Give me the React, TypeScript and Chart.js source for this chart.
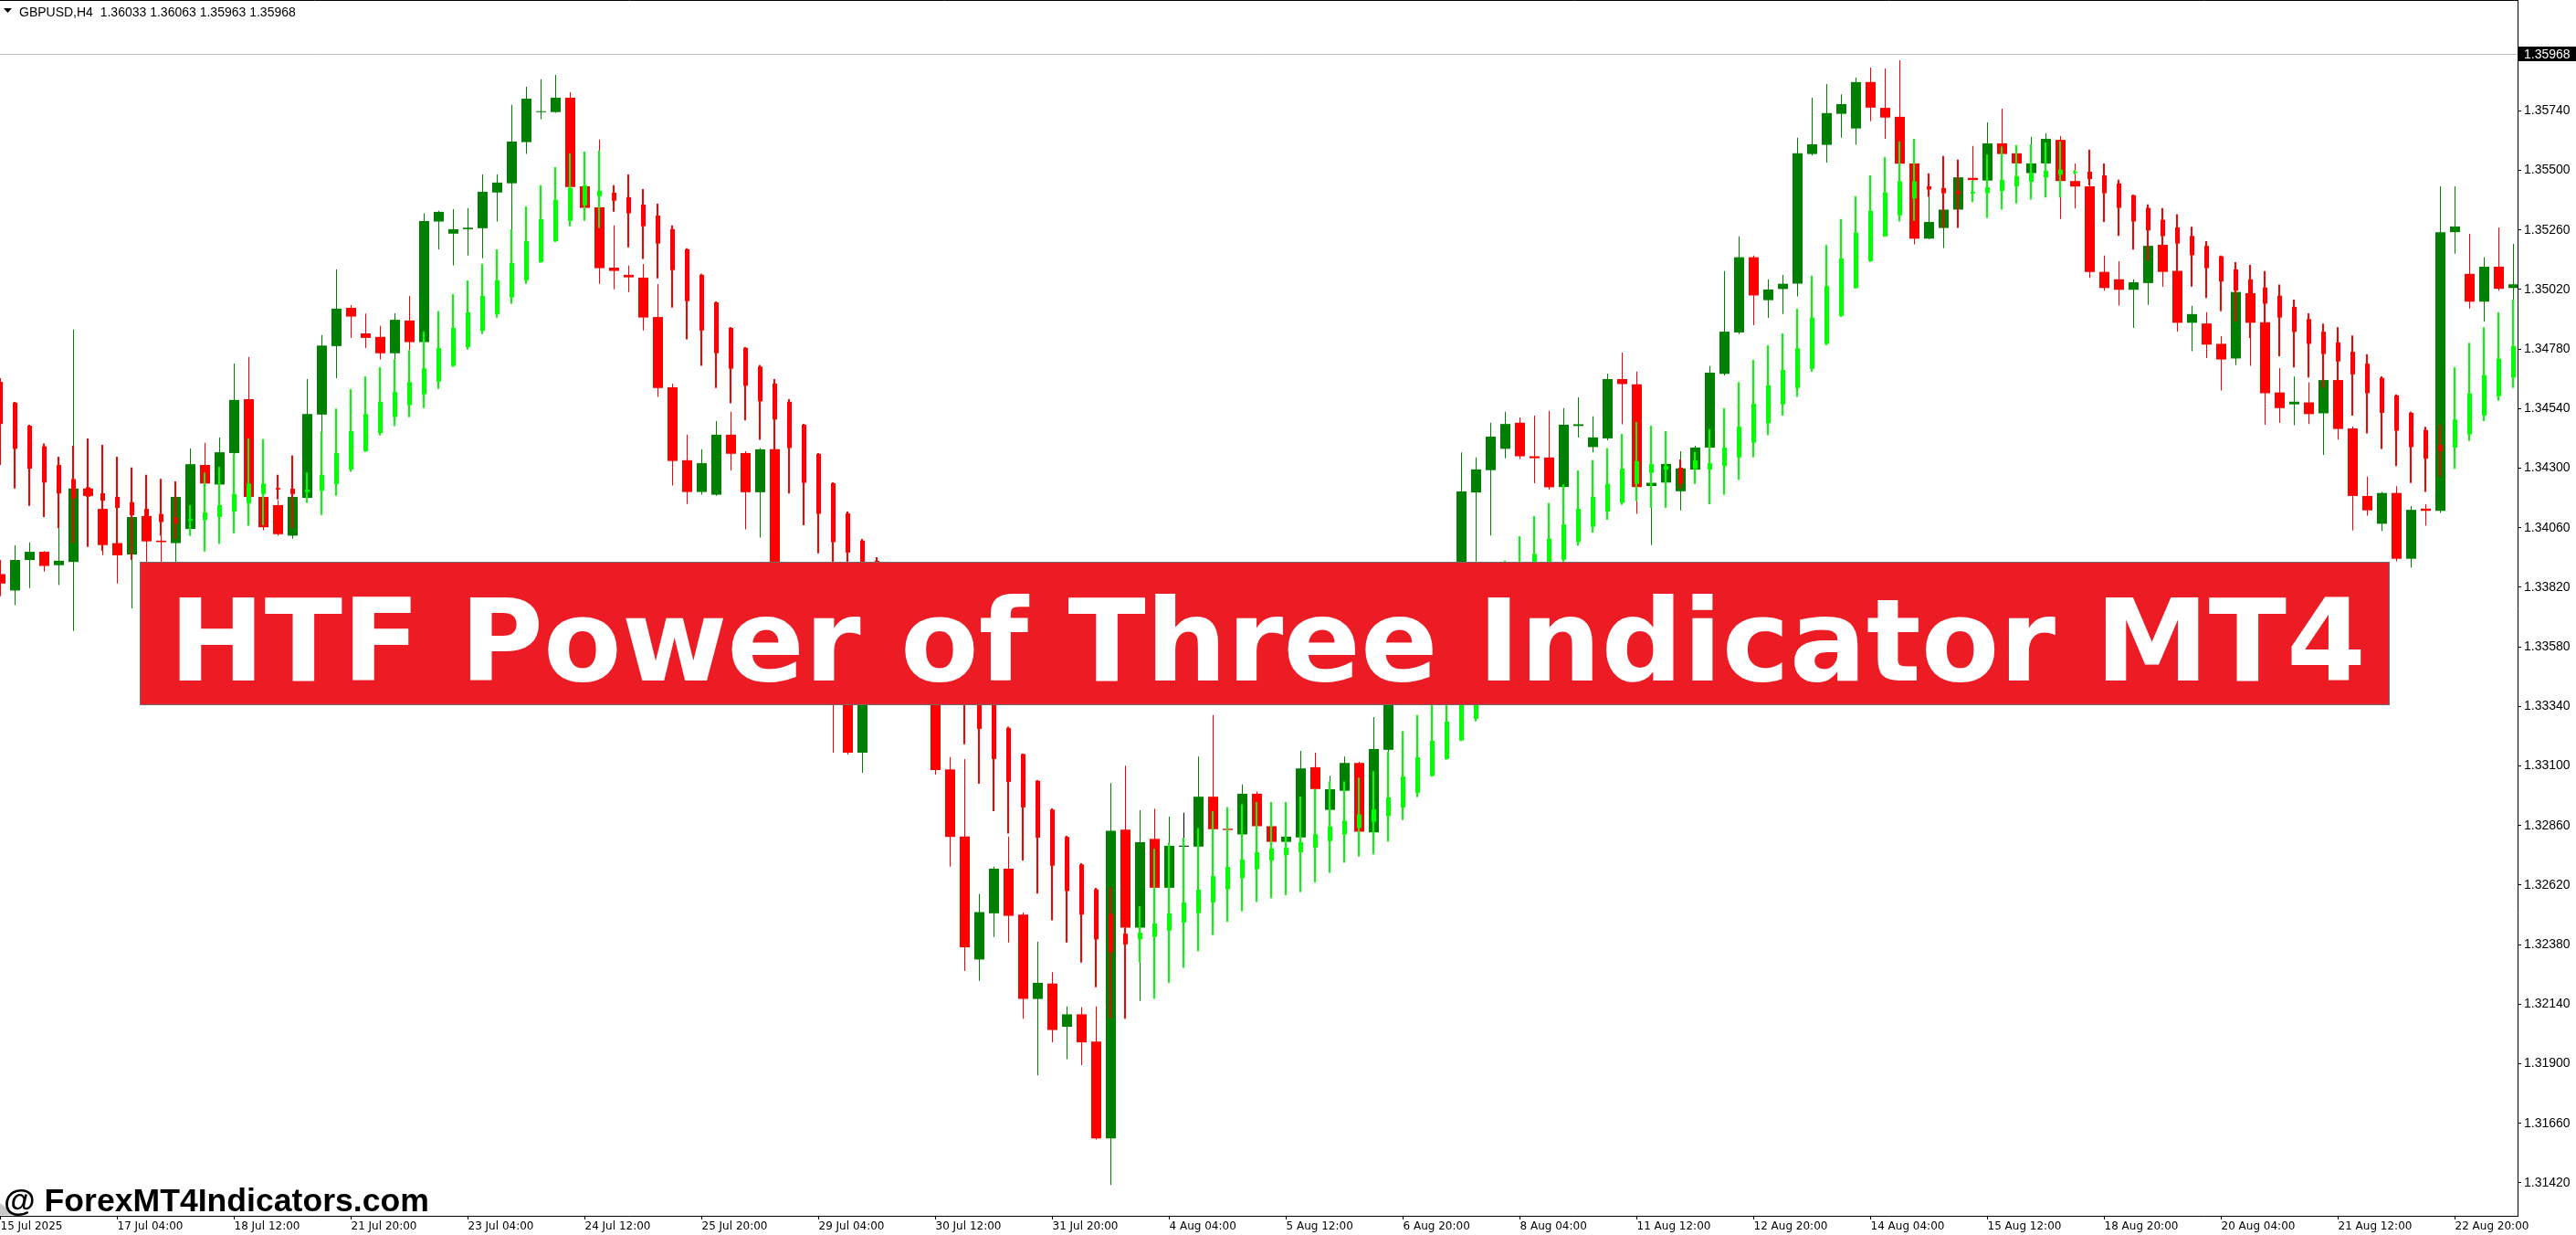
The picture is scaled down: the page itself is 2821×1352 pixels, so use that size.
import React, { useEffect, useRef } from "react";
import { Chart, registerables } from "chart.js";

Chart.register(...registerables);

const CANVAS_W = 2821;
const CANVAS_H = 1352;

const chartTitle = "HTF Power of Three Indicator MT4";
const watermark = "@ ForexMT4Indicators.com";
const headerText = "GBPUSD,H4  1.36033 1.36063 1.35963 1.35968";
const bidPrice = 1.35968;

const priceTicks = [
  1.3142, 1.3166, 1.319, 1.3214, 1.3238, 1.3262, 1.3286, 1.331, 1.3334, 1.3358,
  1.3382, 1.3406, 1.343, 1.3454, 1.3478, 1.3502, 1.3526, 1.355, 1.3574,
];

// one label every 8 H4 bars
const timeLabels = [
  "15 Jul 2025", "17 Jul 04:00", "18 Jul 12:00", "21 Jul 20:00", "23 Jul 04:00",
  "24 Jul 12:00", "25 Jul 20:00", "29 Jul 04:00", "30 Jul 12:00", "31 Jul 20:00",
  "4 Aug 04:00", "5 Aug 12:00", "6 Aug 20:00", "8 Aug 04:00", "11 Aug 12:00",
  "12 Aug 20:00", "14 Aug 04:00", "15 Aug 12:00", "18 Aug 20:00", "20 Aug 04:00",
  "21 Aug 12:00", "22 Aug 20:00",
];
const barsPerLabel = 8;

// GBPUSD H4 price bars
const barOpen = [
  1.33873, 1.33807, 1.3393, 1.33963, 1.33909, 1.33922, 1.34218, 1.34136, 1.33998, 1.33952,
  1.34107, 1.34008, 1.33998, 1.34055, 1.34313, 1.34234, 1.34361, 1.34578, 1.34184, 1.34151,
  1.34028, 1.3418, 1.34516, 1.34792, 1.34946, 1.34843, 1.34829, 1.34763, 1.34895, 1.34808,
  1.35294, 1.35245, 1.35263, 1.35267, 1.35411, 1.35448, 1.35614, 1.35735, 1.35735, 1.35793,
  1.35436, 1.35351, 1.35108, 1.35079, 1.35068, 1.34909, 1.34626, 1.34332, 1.34204, 1.34193,
  1.34435, 1.34361, 1.34203, 1.34376, 1.33794, 1.33647, 1.3372, 1.33904, 1.3361, 1.33153,
  1.33463, 1.3361, 1.33536, 1.33481, 1.33555, 1.33086, 1.32816, 1.3232, 1.32506, 1.32686,
  1.32501, 1.32161, 1.32223, 1.32049, 1.32099, 1.31989, 1.31599, 1.32843, 1.32448, 1.32806,
  1.32609, 1.32775, 1.32775, 1.32976, 1.32847, 1.32824, 1.32988, 1.32857, 1.32794, 1.32812,
  1.33095, 1.32923, 1.33, 1.33112, 1.32832, 1.33165, 1.33463, 1.3361, 1.33536, 1.3372,
  1.33794, 1.34202, 1.34292, 1.34378, 1.34483, 1.34348, 1.34343, 1.34224, 1.3447, 1.34385,
  1.3442, 1.34659, 1.34638, 1.34228, 1.34242, 1.34207, 1.34294, 1.34383, 1.3468, 1.34847,
  1.3515, 1.34977, 1.35022, 1.35044, 1.35566, 1.35603, 1.35728, 1.35669, 1.35856, 1.35752,
  1.35716, 1.35528, 1.35225, 1.35268, 1.35342, 1.3547, 1.35459, 1.35609, 1.35569, 1.35489,
  1.35528, 1.35623, 1.35457, 1.35436, 1.35091, 1.35061, 1.35019, 1.35046, 1.352, 1.35095,
  1.34886, 1.34883, 1.34801, 1.34742, 1.35005, 1.34888, 1.34605, 1.34557, 1.34565, 1.34521,
  1.34655, 1.3446, 1.34188, 1.34076, 1.342, 1.33935, 1.34137, 1.34128, 1.35251, 1.35083,
  1.34971, 1.35112, 1.35026,
];
const barHigh = [
  1.3393, 1.33989, 1.34001, 1.33966, 1.34058, 1.34859, 1.34223, 1.34148, 1.34028, 1.34118,
  1.34125, 1.34028, 1.34208, 1.34379, 1.34402, 1.34423, 1.34722, 1.34748, 1.34187, 1.3417,
  1.34187, 1.34659, 1.34837, 1.35101, 1.34957, 1.34923, 1.34873, 1.34924, 1.34994, 1.35327,
  1.35337, 1.35344, 1.35348, 1.35484, 1.35484, 1.35764, 1.35837, 1.35867, 1.35885, 1.35815,
  1.3544, 1.35624, 1.35278, 1.35116, 1.35123, 1.35042, 1.34641, 1.34435, 1.34376, 1.3449,
  1.34527, 1.34368, 1.34381, 1.34383, 1.33831, 1.33794, 1.33916, 1.33916, 1.33647, 1.33499,
  1.33684, 1.33647, 1.3361, 1.33592, 1.33592, 1.33136, 1.33128, 1.32585, 1.32694, 1.32816,
  1.32509, 1.32391, 1.32269, 1.32131, 1.32128, 1.32131, 1.33031, 1.33101, 1.32921, 1.32928,
  1.32896, 1.32911, 1.33138, 1.33305, 1.32862, 1.33025, 1.32997, 1.32866, 1.32829, 1.33161,
  1.33153, 1.3306, 1.33138, 1.33117, 1.33297, 1.33536, 1.33647, 1.33684, 1.33794, 1.33868,
  1.34364, 1.34343, 1.34483, 1.34527, 1.34504, 1.34512, 1.34531, 1.34542, 1.34585, 1.34509,
  1.34681, 1.34766, 1.34689, 1.34254, 1.34328, 1.34368, 1.3439, 1.34711, 1.35094, 1.35234,
  1.35157, 1.35061, 1.35079, 1.35632, 1.35793, 1.35848, 1.35807, 1.35874, 1.35914, 1.35911,
  1.35944, 1.35532, 1.35393, 1.35357, 1.35477, 1.35599, 1.35693, 1.35749, 1.3558, 1.35635,
  1.3565, 1.35638, 1.35528, 1.35451, 1.35157, 1.35134, 1.35061, 1.352, 1.35204, 1.35101,
  1.34954, 1.34929, 1.34832, 1.35016, 1.35061, 1.34898, 1.34703, 1.34669, 1.34646, 1.34663,
  1.34663, 1.34468, 1.34266, 1.34204, 1.34227, 1.34147, 1.34155, 1.35436, 1.35436, 1.35244,
  1.3515, 1.3527, 1.35204,
];
const barLow = [
  1.33784, 1.33748, 1.33817, 1.33883, 1.33829, 1.33644, 1.34181, 1.33949, 1.33835, 1.33735,
  1.33864, 1.33794, 1.33892, 1.34028, 1.34223, 1.34223, 1.34351, 1.34178, 1.3405, 1.34028,
  1.34016, 1.34178, 1.34445, 1.34663, 1.34825, 1.34784, 1.34738, 1.34739, 1.34776, 1.34803,
  1.35182, 1.35117, 1.35157, 1.35146, 1.35294, 1.35263, 1.35566, 1.35706, 1.35732, 1.35429,
  1.35344, 1.35043, 1.35021, 1.3501, 1.34855, 1.34587, 1.3423, 1.34156, 1.34193, 1.34189,
  1.34291, 1.34053, 1.3402, 1.33739, 1.3361, 1.33592, 1.33647, 1.33153, 1.33146, 1.33072,
  1.33371, 1.33463, 1.33389, 1.33371, 1.33065, 1.32694, 1.32274, 1.32234, 1.32411, 1.32389,
  1.32081, 1.31853, 1.31986, 1.31918, 1.31894, 1.31594, 1.31411, 1.32428, 1.32153, 1.32595,
  1.32595, 1.3277, 1.32745, 1.32828, 1.32829, 1.32818, 1.32851, 1.32785, 1.32781, 1.32807,
  1.32995, 1.32918, 1.32995, 1.32829, 1.32826, 1.33157, 1.33389, 1.33463, 1.33499, 1.33647,
  1.33776, 1.33924, 1.34029, 1.3434, 1.34337, 1.34239, 1.34214, 1.34217, 1.34423, 1.34364,
  1.34412, 1.34477, 1.34116, 1.3399, 1.34217, 1.3413, 1.34287, 1.34376, 1.34674, 1.3484,
  1.34876, 1.34906, 1.34921, 1.34992, 1.3556, 1.35531, 1.35632, 1.35603, 1.35698, 1.35627,
  1.35521, 1.35202, 1.35223, 1.35187, 1.35339, 1.35372, 1.35451, 1.35554, 1.35517, 1.3548,
  1.35517, 1.35304, 1.35346, 1.35067, 1.35015, 1.34955, 1.34865, 1.34958, 1.35031, 1.3485,
  1.34771, 1.34744, 1.34613, 1.34715, 1.34712, 1.34475, 1.34482, 1.34473, 1.34478, 1.34353,
  1.34415, 1.34049, 1.34109, 1.34046, 1.33925, 1.33899, 1.34068, 1.3412, 1.35164, 1.34943,
  1.34891, 1.35015, 1.34938,
];
const barClose = [
  1.33835, 1.3393, 1.33963, 1.33906, 1.33927, 1.34218, 1.34188, 1.3399, 1.33949, 1.34103,
  1.34005, 1.34002, 1.34184, 1.34316, 1.34238, 1.34364, 1.34575, 1.34184, 1.34062, 1.34034,
  1.34184, 1.34518, 1.34794, 1.34943, 1.34911, 1.34825, 1.34763, 1.34898, 1.34808, 1.35296,
  1.35333, 1.35263, 1.35269, 1.35414, 1.35451, 1.35616, 1.35789, 1.35738, 1.35793, 1.35433,
  1.35349, 1.35106, 1.35095, 1.35069, 1.34907, 1.34623, 1.34329, 1.34204, 1.3432, 1.34435,
  1.34358, 1.34203, 1.34376, 1.33794, 1.33647, 1.33757, 1.33904, 1.3361, 1.33153, 1.33463,
  1.3361, 1.33536, 1.33481, 1.33555, 1.33083, 1.32814, 1.32369, 1.32511, 1.32686, 1.32496,
  1.32161, 1.32226, 1.32036, 1.32099, 1.31986, 1.31599, 1.32839, 1.32448, 1.32793, 1.32609,
  1.32778, 1.32775, 1.32976, 1.32845, 1.32842, 1.32988, 1.32857, 1.32794, 1.32815, 1.3309,
  1.33007, 1.33006, 1.33112, 1.32835, 1.33168, 1.33463, 1.3361, 1.33536, 1.3372, 1.33794,
  1.34206, 1.34295, 1.34427, 1.34478, 1.34348, 1.3434, 1.34223, 1.34475, 1.34477, 1.34424,
  1.34659, 1.34639, 1.34224, 1.34241, 1.34317, 1.34299, 1.34383, 1.34685, 1.3485, 1.3515,
  1.34996, 1.3502, 1.35043, 1.35569, 1.35605, 1.35731, 1.35767, 1.35856, 1.35753, 1.35713,
  1.35527, 1.35225, 1.35292, 1.35342, 1.35472, 1.35461, 1.35609, 1.35566, 1.35528, 1.35528,
  1.35627, 1.35457, 1.35435, 1.35091, 1.35026, 1.35019, 1.35049, 1.35196, 1.35091, 1.34886,
  1.34921, 1.34798, 1.34738, 1.3501, 1.34886, 1.34602, 1.34542, 1.34568, 1.34518, 1.34655,
  1.34458, 1.34188, 1.3413, 1.342, 1.33935, 1.34132, 1.34128, 1.35251, 1.35274, 1.34971,
  1.35112, 1.35023, 1.35041,
];

// HTF Power of Three overlay candles
const powOpen = [
  1.34648, 1.34564, 1.34471, 1.34388, 1.34313, 1.34256, 1.34223, 1.34199, 1.34184, 1.34163,
  1.34136, 1.34115, 1.34101, 1.34088, 1.34091, 1.34103, 1.34125, 1.34158, 1.34196, 1.3422,
  1.34217, 1.34203, 1.34209, 1.34236, 1.34295, 1.34368, 1.34442, 1.34506, 1.34554, 1.34598,
  1.34649, 1.34712, 1.34788, 1.34854, 1.34921, 1.34988, 1.35057, 1.3513, 1.35215, 1.35297,
  1.35359, 1.35396, 1.3541, 1.35392, 1.35362, 1.35318, 1.35263, 1.35182, 1.35079, 1.34968,
  1.34865, 1.34785, 1.34709, 1.34641, 1.34567, 1.34475, 1.34357, 1.34239, 1.34118, 1.34008,
  1.33927, 1.33842, 1.33757, 1.33673, 1.33592, 1.33507, 1.33444, 1.33389, 1.33352, 1.33253,
  1.33148, 1.3304, 1.32924, 1.32814, 1.32703, 1.32603, 1.32503, 1.32424, 1.32401, 1.32411,
  1.32436, 1.32469, 1.32507, 1.3255, 1.32603, 1.32648, 1.32684, 1.32718, 1.3274, 1.32752,
  1.32771, 1.32797, 1.32824, 1.3285, 1.32875, 1.32898, 1.32932, 1.32992, 1.3306, 1.33128,
  1.33203, 1.3329, 1.334, 1.3352, 1.3365, 1.3377, 1.3386, 1.33931, 1.34003, 1.34064,
  1.34125, 1.3416, 1.34237, 1.34281, 1.34294, 1.34302, 1.34297, 1.34294, 1.34308, 1.34343,
  1.34403, 1.34481, 1.34557, 1.34623, 1.347, 1.34801, 1.34914, 1.35026, 1.35134, 1.35234,
  1.35319, 1.35387, 1.35436, 1.35429, 1.35418, 1.35407, 1.35408, 1.35417, 1.35436, 1.35454,
  1.35471, 1.35482, 1.3549, 1.35495, 1.3548, 1.35447, 1.354, 1.35349, 1.35301, 1.3527,
  1.35236, 1.35196, 1.35154, 1.35101, 1.35061, 1.35028, 1.34995, 1.3495, 1.34901, 1.3485,
  1.34807, 1.34769, 1.34721, 1.34664, 1.34593, 1.34523, 1.34454, 1.34394, 1.34383, 1.34436,
  1.34512, 1.3459, 1.34665,
];
const powHigh = [
  1.34663, 1.34567, 1.34475, 1.34399, 1.34346, 1.3439, 1.3442, 1.34394, 1.34346, 1.34303,
  1.34273, 1.34257, 1.34247, 1.34151, 1.34283, 1.34306, 1.34358, 1.3442, 1.34417, 1.34273,
  1.34352, 1.34283, 1.34447, 1.3454, 1.34619, 1.3467, 1.34707, 1.34739, 1.34776, 1.34851,
  1.34932, 1.35002, 1.35057, 1.35124, 1.35182, 1.35263, 1.35355, 1.3544, 1.35513, 1.35569,
  1.35576, 1.3558, 1.3544, 1.35484, 1.35425, 1.35366, 1.35278, 1.35186, 1.35083, 1.34972,
  1.34869, 1.34788, 1.34716, 1.34659, 1.34578, 1.34479, 1.34361, 1.34243, 1.34125, 1.34015,
  1.33941, 1.3386, 1.33776, 1.33691, 1.3361, 1.33529, 1.33463, 1.33407, 1.3336, 1.33258,
  1.3315, 1.33043, 1.32929, 1.32818, 1.32708, 1.32609, 1.32611, 1.32448, 1.32535, 1.32766,
  1.32791, 1.32811, 1.3285, 1.32918, 1.32934, 1.32945, 1.32955, 1.32955, 1.32955, 1.32977,
  1.33007, 1.33037, 1.33037, 1.33053, 1.33079, 1.33157, 1.3324, 1.33305, 1.33345, 1.33389,
  1.3354, 1.3366, 1.338, 1.33927, 1.34026, 1.34107, 1.3416, 1.34235, 1.34291, 1.34333,
  1.34381, 1.34438, 1.34486, 1.34471, 1.34449, 1.34335, 1.34365, 1.34457, 1.34542, 1.34647,
  1.34736, 1.34795, 1.34843, 1.34942, 1.35076, 1.35199, 1.35304, 1.35396, 1.3548, 1.35554,
  1.35617, 1.35627, 1.35488, 1.35558, 1.35543, 1.35459, 1.35564, 1.35596, 1.35602, 1.35605,
  1.35612, 1.35617, 1.35502, 1.35584, 1.35528, 1.35462, 1.35403, 1.35363, 1.35348, 1.35323,
  1.35273, 1.35215, 1.35157, 1.3513, 1.35119, 1.35094, 1.3504, 1.34979, 1.34924, 1.34883,
  1.34868, 1.34835, 1.34759, 1.3467, 1.34597, 1.34527, 1.34467, 1.34475, 1.34708, 1.34805,
  1.34868, 1.34929, 1.34979,
];
const powLow = [
  1.34313, 1.34218, 1.34148, 1.34103, 1.34058, 1.33998, 1.33983, 1.33967, 1.33952, 1.3393,
  1.34013, 1.34028, 1.34013, 1.34028, 1.33964, 1.33995, 1.34038, 1.34068, 1.3407, 1.34174,
  1.34059, 1.3416, 1.34111, 1.34189, 1.34285, 1.34365, 1.34432, 1.34469, 1.34505, 1.34542,
  1.34619, 1.34708, 1.34778, 1.3484, 1.34907, 1.34962, 1.35043, 1.35128, 1.35211, 1.35275,
  1.35297, 1.35268, 1.35334, 1.3519, 1.35143, 1.35065, 1.34947, 1.34819, 1.34712, 1.34623,
  1.34561, 1.34492, 1.34414, 1.34373, 1.34198, 1.3407, 1.33957, 1.33868, 1.33831, 1.33728,
  1.33628, 1.33536, 1.33463, 1.33407, 1.33371, 1.33349, 1.33187, 1.33028, 1.32918, 1.32828,
  1.32719, 1.32586, 1.32478, 1.32389, 1.32308, 1.32208, 1.32083, 1.32081, 1.32308, 1.32161,
  1.32225, 1.32286, 1.32353, 1.32419, 1.32471, 1.32514, 1.32552, 1.32567, 1.32579, 1.32591,
  1.3263, 1.32669, 1.3271, 1.32735, 1.32744, 1.32794, 1.32882, 1.32974, 1.33057, 1.33126,
  1.332, 1.33279, 1.3338, 1.335, 1.3362, 1.3374, 1.3383, 1.3388, 1.33987, 1.34041,
  1.34092, 1.34152, 1.34167, 1.3414, 1.3414, 1.34217, 1.34237, 1.34155, 1.34192, 1.34252,
  1.34343, 1.34433, 1.34512, 1.34587, 1.34688, 1.34795, 1.34909, 1.35023, 1.35131, 1.35232,
  1.35294, 1.35297, 1.35393, 1.35268, 1.35268, 1.35372, 1.35309, 1.35342, 1.35367, 1.35382,
  1.35391, 1.35391, 1.35484, 1.35439, 1.35292, 1.35236, 1.35181, 1.35137, 1.35119, 1.35083,
  1.35032, 1.34986, 1.34932, 1.34891, 1.34825, 1.3477, 1.34751, 1.34706, 1.34665, 1.34623,
  1.34567, 1.34512, 1.3444, 1.34377, 1.34308, 1.3424, 1.34204, 1.34267, 1.34297, 1.3441,
  1.3449, 1.34572, 1.34623,
];
const powClose = [
  1.34478, 1.34378, 1.34298, 1.34242, 1.34198, 1.34178, 1.34185, 1.34169, 1.3414, 1.3411,
  1.34103, 1.34083, 1.34077, 1.34095, 1.34122, 1.34151, 1.34196, 1.34238, 1.34238, 1.34214,
  1.34196, 1.34214, 1.34273, 1.34361, 1.34449, 1.34518, 1.34567, 1.34607, 1.34647, 1.34702,
  1.34784, 1.34865, 1.34928, 1.34994, 1.35057, 1.35127, 1.35215, 1.35303, 1.35381, 1.35429,
  1.3544, 1.35418, 1.35378, 1.35327, 1.35275, 1.35205, 1.35098, 1.34973, 1.34855, 1.34763,
  1.34701, 1.34632, 1.34569, 1.34496, 1.34381, 1.34241, 1.34116, 1.34002, 1.3396, 1.33875,
  1.33794, 1.33713, 1.33628, 1.33544, 1.33463, 1.33389, 1.33345, 1.33249, 1.33128, 1.33036,
  1.32933, 1.32811, 1.32698, 1.32596, 1.32501, 1.32401, 1.32349, 1.32381, 1.32428, 1.32465,
  1.32506, 1.3255, 1.32601, 1.32656, 1.32693, 1.32723, 1.32752, 1.32767, 1.3277, 1.32793,
  1.32825, 1.32856, 1.32879, 1.32905, 1.32925, 1.32973, 1.33058, 1.33135, 1.33201, 1.33279,
  1.3338, 1.335, 1.3362, 1.3374, 1.3385, 1.33954, 1.34016, 1.34073, 1.34136, 1.34184,
  1.34237, 1.34298, 1.34328, 1.34316, 1.34308, 1.34237, 1.34332, 1.3432, 1.34383, 1.34467,
  1.3456, 1.34634, 1.34696, 1.34783, 1.34907, 1.35034, 1.35145, 1.35249, 1.35337, 1.35411,
  1.35456, 1.35456, 1.35423, 1.35408, 1.35403, 1.35414, 1.35432, 1.35462, 1.35477, 1.35489,
  1.35498, 1.35503, 1.35495, 1.35465, 1.35408, 1.35349, 1.35294, 1.35258, 1.35235, 1.35205,
  1.35158, 1.35106, 1.35052, 1.35015, 1.35005, 1.34963, 1.34907, 1.34849, 1.34801, 1.3476,
  1.3473, 1.34678, 1.34602, 1.34523, 1.34451, 1.34385, 1.34338, 1.34369, 1.34496, 1.34601,
  1.34675, 1.34741, 1.34792,
];

const BULL = "#008000";
const BEAR = "#FF0000";
const DOJI = "#000000";
const POW_BULL = "#00FF00";
const POW_BEAR = "#FF0000";

const barColor = (i: number) => {
  if (i === undefined || i === null) return BULL;
  if (barClose[i] > barOpen[i]) return BULL;
  if (barClose[i] < barOpen[i]) return BEAR;
  return DOJI;
};
const powColor = (i: number) => {
  if (i === undefined || i === null) return POW_BULL;
  return powClose[i] >= powOpen[i] ? POW_BULL : POW_BEAR;
};

const terminalChrome = {
  id: "terminalChrome",
  beforeDraw(chart: any) {
    const { ctx } = chart;
    ctx.save();
    ctx.fillStyle = "#FFFFFF";
    ctx.fillRect(0, 0, chart.width, chart.height);
    ctx.restore();
  },
  beforeDatasetsDraw(chart: any) {
    const { ctx, chartArea, scales } = chart;
    const y = Math.round(scales.y.getPixelForValue(bidPrice)) + 0.5;
    ctx.save();
    ctx.strokeStyle = "#C0C0C0";
    ctx.lineWidth = 1;
    ctx.beginPath();
    ctx.moveTo(chartArea.left, y);
    ctx.lineTo(chartArea.right, y);
    ctx.stroke();
    ctx.restore();
  },
  afterDraw(chart: any) {
    const { ctx, chartArea, scales } = chart;
    ctx.save();

    // top frame line
    ctx.strokeStyle = "#000000";
    ctx.lineWidth = 1;
    ctx.beginPath();
    ctx.moveTo(0, 0.5);
    ctx.lineTo(chartArea.right + 1, 0.5);
    ctx.stroke();

    // bid price marker on the price scale
    const yb = scales.y.getPixelForValue(bidPrice);
    ctx.fillStyle = "#000000";
    ctx.fillRect(chartArea.right + 1, Math.round(yb) - 8, chart.width - chartArea.right - 1, 16);
    ctx.fillStyle = "#FFFFFF";
    ctx.font = '14px "Liberation Sans", Arial, sans-serif';
    ctx.textAlign = "left";
    ctx.textBaseline = "middle";
    ctx.fillText(bidPrice.toFixed(5), chartArea.right + 7, yb + 0.5);

    // symbol header
    ctx.fillStyle = "#000000";
    ctx.beginPath();
    ctx.moveTo(4, 9);
    ctx.lineTo(13, 9);
    ctx.lineTo(8.5, 14);
    ctx.closePath();
    ctx.fill();
    ctx.font = '14px "Liberation Sans", Arial, sans-serif';
    ctx.textBaseline = "alphabetic";
    ctx.fillText(headerText, 21, 17.5);

    // title banner
    const bx = 153, by = 615, bw = 2464, bh = 157;
    ctx.fillStyle = "#ED1C24";
    ctx.fillRect(bx, by, bw, bh);
    ctx.strokeStyle = "#6E6E6E";
    ctx.lineWidth = 1;
    ctx.strokeRect(bx + 0.5, by + 0.5, bw - 1, bh - 1);
    let titleSize = 125;
    ctx.font = `bold ${titleSize}px "DejaVu Sans", Verdana, sans-serif`;
    const tw = ctx.measureText(chartTitle).width;
    if (tw > 0) titleSize = titleSize * (2406 / tw);
    ctx.font = `bold ${titleSize}px "DejaVu Sans", Verdana, sans-serif`;
    ctx.fillStyle = "#FFFFFF";
    ctx.textAlign = "center";
    ctx.textBaseline = "alphabetic";
    ctx.fillText(chartTitle, 1388, 745);

    // watermark
    ctx.fillStyle = "#C8C8C8";
    ctx.beginPath();
    ctx.moveTo(0, 1317);
    ctx.lineTo(0, 1330);
    ctx.lineTo(17, 1330);
    ctx.closePath();
    ctx.fill();
    let wmSize = 33;
    ctx.font = `bold ${wmSize}px "Liberation Sans", Arial, sans-serif`;
    const ww = ctx.measureText(watermark).width;
    if (ww > 0) wmSize = wmSize * (466 / ww);
    ctx.font = `bold ${wmSize}px "Liberation Sans", Arial, sans-serif`;
    ctx.fillStyle = "#000000";
    ctx.textAlign = "left";
    ctx.fillText(watermark, 4, 1326);

    ctx.restore();
  },
};

export default function App() {
  const canvasRef = useRef<HTMLCanvasElement | null>(null);

  useEffect(() => {
    const canvas = canvasRef.current;
    if (!canvas) return;

    const idx = barOpen.map((_, i) => i);
    const common = {
      grouped: false,
      borderWidth: 0,
      borderSkipped: false,
      inflateAmount: 0,
    };

    const chart = new Chart(canvas, {
      type: "bar",
      data: {
        datasets: [
          {
            ...common,
            label: "Power of Three body",
            order: 1,
            xAxisID: "x",
            barThickness: 5,
            minBarLength: 1,
            data: idx.map((i) => ({ x: i, y: [powOpen[i], powClose[i]] })),
            backgroundColor: (c: any) => powColor(c.dataIndex),
          },
          {
            ...common,
            label: "Power of Three range",
            order: 2,
            xAxisID: "xw",
            barThickness: 2,
            data: idx.map((i) => ({ x: i, y: [powLow[i], powHigh[i]] })),
            backgroundColor: (c: any) => powColor(c.dataIndex),
          },
          {
            ...common,
            label: "Candle body",
            order: 3,
            xAxisID: "x",
            barThickness: 11,
            minBarLength: 1,
            data: idx.map((i) => ({ x: i, y: [barOpen[i], barClose[i]] })),
            backgroundColor: (c: any) => barColor(c.dataIndex),
          },
          {
            ...common,
            label: "Candle range",
            order: 4,
            xAxisID: "x",
            barThickness: 1,
            data: idx.map((i) => ({ x: i, y: [barLow[i], barHigh[i]] })),
            backgroundColor: (c: any) => barColor(c.dataIndex),
          },
        ] as any,
      },
      options: {
        responsive: false,
        maintainAspectRatio: false,
        devicePixelRatio: 1,
        animation: false,
        events: [],
        layout: { padding: { top: 1, left: 0, right: 0, bottom: 0 }, autoPadding: false },
        plugins: {
          legend: { display: false },
          tooltip: { enabled: false },
          title: { display: false },
        },
        scales: {
          x: {
            type: "linear",
            position: "bottom",
            offset: false,
            min: -0.03125,
            max: 172.28125,
            afterBuildTicks: (s: any) => {
              s.ticks = timeLabels.map((_, i) => ({ value: i * barsPerLabel }));
            },
            afterFit: (s: any) => {
              s.height = 21;
              s.paddingLeft = 0;
              s.paddingRight = 0;
            },
            ticks: {
              autoSkip: false,
              maxRotation: 0,
              minRotation: 0,
              align: "start",
              padding: 1,
              color: "#000000",
              font: { family: '"DejaVu Sans", Verdana, sans-serif', size: 12 },
              callback: (_v: any, i: number) => timeLabels[i],
            },
            grid: { drawOnChartArea: false, drawTicks: true, tickLength: 4, color: "#000000", offset: false },
            border: { display: true, color: "#000000", width: 1 },
          },
          xw: {
            type: "linear",
            display: false,
            offset: false,
            min: 0,
            max: 172.3125,
            grid: { offset: false },
            afterFit: (s: any) => {
              s.paddingLeft = 0;
              s.paddingRight = 0;
            },
          },
          y: {
            type: "linear",
            position: "right",
            min: 1.31287,
            max: 1.36183,
            afterBuildTicks: (s: any) => {
              s.ticks = priceTicks.map((v) => ({ value: v }));
            },
            afterFit: (s: any) => {
              s.width = 64;
              s.paddingTop = 0;
              s.paddingBottom = 0;
            },
            ticks: {
              autoSkip: false,
              padding: 3,
              color: "#000000",
              font: { family: '"Liberation Sans", Arial, sans-serif', size: 14 },
              callback: (v: any) => Number(v).toFixed(5),
            },
            grid: { drawOnChartArea: false, drawTicks: true, tickLength: 4, color: "#000000" },
            border: { display: true, color: "#000000", width: 1 },
          },
        },
      } as any,
      plugins: [terminalChrome],
    });

    return () => chart.destroy();
  }, []);

  return (
    <canvas
      ref={canvasRef}
      width={CANVAS_W}
      height={CANVAS_H}
      style={{ position: "fixed", left: 0, top: 0, display: "block" }}
    />
  );
}
